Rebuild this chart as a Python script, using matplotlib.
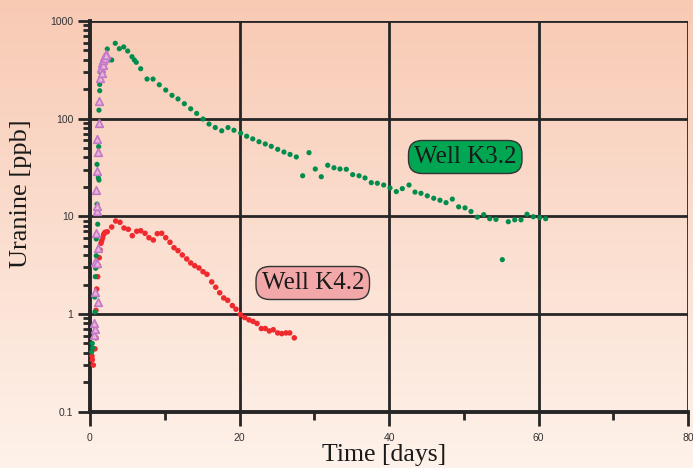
import numpy as np
import matplotlib
matplotlib.use("Agg")
from matplotlib import pyplot as plt
from matplotlib.ticker import LogLocator, NullFormatter, FixedLocator

# --- data (days, ppb) ---
k32_days = [0.23, 0.31, 0.35, 0.63, 0.67, 0.71, 0.76, 0.84, 0.84, 0.94, 0.94, 0.98, 1.03,
            1.11, 1.16, 1.20, 1.20, 1.30, 1.30, 1.43,
            2.31, 2.90, 3.38, 3.92, 4.51, 5.04, 5.62, 5.93, 6.19, 6.78, 7.63, 8.43, 9.27,
            10.13, 10.97, 11.77, 12.62, 13.47, 14.27, 15.12, 15.92, 16.76, 17.62, 18.46,
            19.26, 20.16, 20.96, 21.77, 22.61, 23.45, 24.25, 25.11, 25.95, 26.76, 27.60,
            28.45, 29.30, 30.14, 30.94, 31.80, 32.64, 33.44, 34.29, 35.14, 35.99, 36.79,
            37.63, 38.44, 39.29, 40.13, 40.98, 41.78, 42.68, 43.48, 44.28, 45.12, 45.98,
            46.82, 47.63, 48.47, 49.32, 50.17, 50.97, 51.81, 52.67, 53.47, 54.31, 55.16,
            55.96, 56.82, 57.66, 58.46, 59.30, 60.16, 60.96]
k32_ppb = [0.41, 0.50, 0.45, 1.49, 1.05, 2.41, 2.94, 3.95, 5.86, 13.3, 34.0, 58.0, 8.3,
           24.8, 51.6, 23.5, 122, 193, 224, 298,
           515, 398, 590, 519, 541, 492, 430, 398, 377, 324, 254, 254, 222,
           196, 173, 159, 142, 126, 113, 99, 88, 81, 75, 81,
           76, 71, 66, 62, 58, 55, 52, 48.5, 45.5, 43, 40.5,
           26, 44.8, 30.5, 25.4, 33.3, 31.4, 30.5, 30.3, 26.7, 26, 24.7,
           22.1, 21.8, 20.9, 19.5, 17.9, 19.2, 20.9, 17.7, 17.2, 16.2, 15.3,
           14.6, 13.8, 15.0, 12.5, 12.2, 11.2, 9.8, 10.4, 9.45, 9.3, 3.6,
           8.8, 9.2, 9.2, 10.5, 9.9, 9.7, 9.45]

k42_days = [0.27, 0.31, 0.44, 0.67, 0.80, 0.80, 0.90, 1.03, 1.11, 1.24, 1.34, 1.47, 1.57,
            1.70, 1.83, 2.01, 2.31, 2.90, 3.44, 4.01, 4.55, 5.12, 5.66, 6.25, 6.78, 7.36,
            7.89, 8.47, 9.00, 9.59, 10.13, 10.70, 11.24, 11.77, 12.35, 12.94, 13.47,
            14.01, 14.58, 15.12, 15.65, 16.28, 16.82, 17.35, 17.89, 18.42, 19.04, 19.53,
            20.11, 20.70, 21.27, 21.81, 22.34, 22.92, 23.45, 23.99, 24.52, 25.11, 25.65,
            26.22, 26.72, 27.33]
k42_ppb = [0.37, 0.34, 0.30, 0.44, 0.57, 1.09, 1.80, 2.41, 3.12, 3.77, 4.52, 5.30, 5.63,
           6.04, 6.54, 6.86, 6.95, 7.77, 8.95, 8.68, 7.59, 7.36, 6.33, 7.02, 7.12, 6.70,
           6.04, 5.72, 6.64, 6.70, 6.04, 5.42, 4.77, 4.45, 4.02, 3.66, 3.33,
           3.12, 2.96, 2.71, 2.55, 2.13, 1.88, 1.65, 1.46, 1.38, 1.22, 1.12,
           0.99, 0.92, 0.87, 0.84, 0.80, 0.71, 0.71, 0.67, 0.69, 0.64, 0.63,
           0.64, 0.64, 0.57]

tri_days = [0.58, 0.67, 0.58, 0.71, 1.11, 0.67, 0.90, 1.11, 0.76, 0.94, 0.90, 0.84, 0.90,
            1.07, 0.98, 1.16, 1.24, 1.34, 1.47, 1.54, 1.65, 1.71, 1.78, 1.91, 1.98, 2.10, 2.14]
tri_ppb = [0.61, 0.71, 0.80, 1.69, 1.34, 3.43, 3.3, 4.7, 6.7, 11.3, 12.8, 18.6, 29,
           45.5, 62, 90, 151, 260, 330, 290, 371, 355, 398, 430, 415, 455, 447]

x_ticks = [0, 20, 40, 60, 80]
y_ticks = [0.1, 1, 10, 100, 1000]
y_tick_labels = ["0.1", "1", "10", "100", "1000"]

W, H = 693, 468
fig = plt.figure(figsize=(W / 100, H / 100), dpi=100)

# peach gradient background over the whole figure
bg = fig.add_axes([0, 0, 1, 1], zorder=-10)
top = np.array([248, 202, 180]) / 255
bot = np.array([254, 242, 234]) / 255
t = np.linspace(0, 1, 256)[:, None]
grad = top[None, :] * (1 - t) + bot[None, :] * t
bg.imshow(grad[:, None, :].repeat(2, axis=1), aspect="auto", extent=[0, 1, 0, 1])
bg.axis("off")

ax = fig.add_axes([90 / W, 1 - 411.7 / H, (688 - 90) / W, (411.7 - 20.9) / H])
ax.patch.set_alpha(0)
ax.set_yscale("log")
ax.set_xlim(0, 80)
ax.set_ylim(0.1, 1000)

gridc = "#262626"
for xv in x_ticks[1:]:
    ax.axvline(xv, color=gridc, lw=2, zorder=1)
for yv in y_ticks[1:]:
    ax.axhline(yv, color=gridc, lw=2, zorder=1)

for side in ["top", "right"]:
    ax.spines[side].set_visible(False)
for side in ["left", "bottom"]:
    ax.spines[side].set_linewidth(2.8)
    ax.spines[side].set_color(gridc)

tickfont = {"family": ["Liberation Sans Narrow", "Liberation Sans", "DejaVu Sans"], "size": 7.5}
ax.xaxis.set_major_locator(FixedLocator(x_ticks))
ax.xaxis.set_minor_locator(FixedLocator([10, 30, 50, 70]))
ax.set_xticklabels([str(v) for v in x_ticks], **tickfont, color="#333333")
ax.yaxis.set_major_locator(FixedLocator(y_ticks))
ax.set_yticklabels(y_tick_labels, **tickfont, color="#333333")
ax.yaxis.set_minor_locator(LogLocator(base=10, subs=np.arange(2, 10)))
ax.yaxis.set_minor_formatter(NullFormatter())
ax.tick_params(axis="x", which="major", length=10, width=2, direction="out", pad=5, colors=gridc)
ax.tick_params(axis="x", which="minor", length=6, width=2, direction="out", colors=gridc)
ax.tick_params(axis="y", which="major", length=9, width=2, direction="out", pad=3, colors=gridc)
ax.tick_params(axis="y", which="minor", length=5, width=2, direction="out", colors=gridc)
for lab in ax.get_xticklabels() + ax.get_yticklabels():
    lab.set_color("#333333")

ax.scatter(k42_days, k42_ppb, s=16, color="#EE2A2E", edgecolors="none", zorder=3, clip_on=False)
ax.scatter(k32_days, k32_ppb, s=14, color="#008C4C", edgecolors="none", zorder=4, clip_on=False)
ax.scatter(tri_days, tri_ppb, s=30, marker="^", facecolor="#E9B4DA", edgecolors="#C278C6",
           linewidths=1.2, zorder=5, clip_on=False)

serif = ["Liberation Serif", "DejaVu Serif"]
ax.text(50.2, 10 ** ((314 - 157) / 97.7), "Well K3.2", family=serif, fontsize=18,
        ha="center", va="center", color="#1a1a1a", zorder=6,
        bbox=dict(boxstyle="round,pad=0.22,rounding_size=0.55", fc="#00A651", ec="#333333", lw=1))
ax.text(29.8, 10 ** ((314 - 283) / 97.7), "Well K4.2", family=serif, fontsize=18,
        ha="center", va="center", color="#1a1a1a", zorder=6,
        bbox=dict(boxstyle="round,pad=0.22,rounding_size=0.55", fc="#F2A8A8", ec="#333333", lw=1))

ax.set_xlabel("Time [days]", family=serif, fontsize=18.5, color="#1a1a1a")
ax.set_ylabel("Uranine [ppb]", family=serif, fontsize=19, color="#1a1a1a")
ax.xaxis.set_label_coords(0.492, -0.082)
ax.yaxis.set_label_coords(-0.097, 0.557)

fig.savefig("out.png", dpi=100)
